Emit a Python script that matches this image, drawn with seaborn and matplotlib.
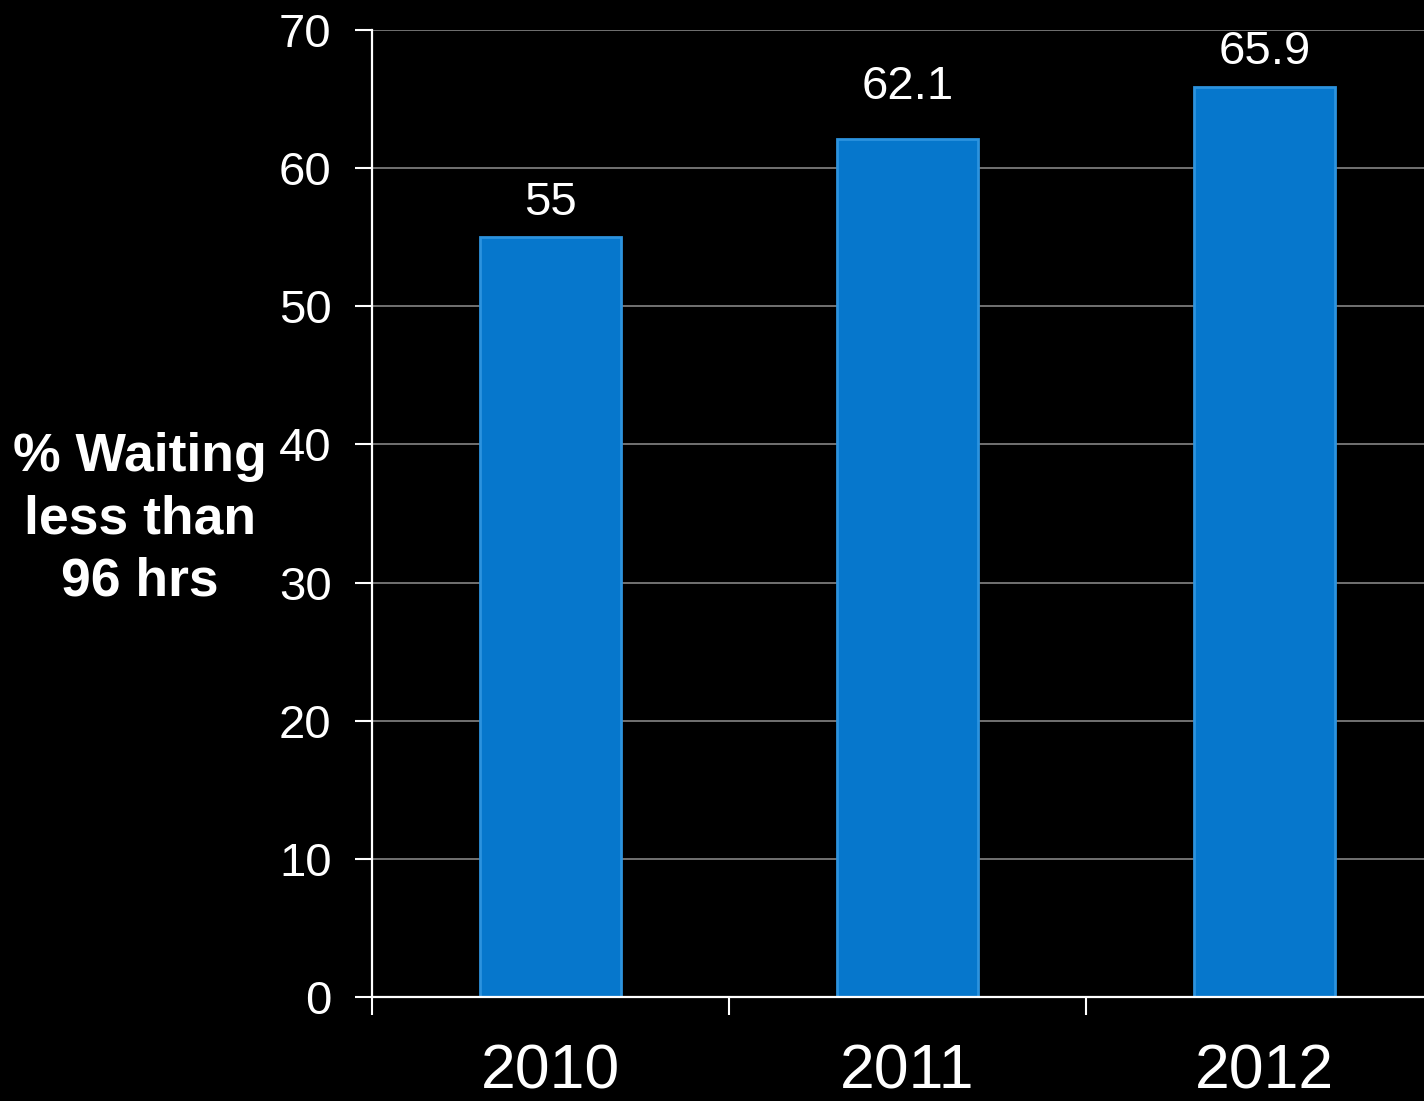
import matplotlib
matplotlib.use("Agg")
import matplotlib.pyplot as plt
import seaborn as sns

# data
years = ["2010", "2011", "2012"]
pct_waiting = [55, 62.1, 65.9]
bar_labels = ["55", "62.1", "65.9"]
y_ticks = [0, 10, 20, 30, 40, 50, 60, 70]


def main():
    sns.set_style("dark")
    plt.rcParams["font.family"] = ["Liberation Sans", "DejaVu Sans"]
    plt.rcParams["figure.facecolor"] = "black"
    plt.rcParams["axes.facecolor"] = "black"

    fig = plt.figure(figsize=(14.24, 11.01), dpi=100)
    ax = fig.add_axes([0.2612, 0.0945, 1.0 - 0.2612, 0.9728 - 0.0945])

    sns.barplot(x=years, y=pct_waiting, color="#0677CC", width=0.395,
                edgecolor="#2C93DE", linewidth=2, saturation=1, ax=ax)

    # value labels above the bars (the middle one sits a bit higher in the original)
    label_pads = [9, 22, 9]
    for bar, txt, pad in zip(ax.patches, bar_labels, label_pads):
        ax.annotate(txt, (bar.get_x() + bar.get_width() / 2, bar.get_height()),
                    xytext=(0, pad), textcoords="offset points",
                    ha="center", va="bottom", fontsize=34, color="white")

    # axes range
    ax.set_ylim(0, 70)
    ax.set_xlim(-0.5, 2.447)
    ax.set_yticks(y_ticks)

    # gridlines and spines
    ax.grid(False)
    ax.yaxis.grid(True, color="#7A7A7A", linewidth=1.3)
    ax.set_axisbelow(True)
    for side in ["top", "right"]:
        ax.spines[side].set_visible(False)
    for side in ["left", "bottom"]:
        ax.spines[side].set_visible(True)
        ax.spines[side].set_color("white")
        ax.spines[side].set_linewidth(1.6)

    # ticks: category boundaries get the tick marks on x
    ax.set_xticks([-0.5, 0.5, 1.5], minor=True)
    ax.tick_params(axis="x", which="minor", length=13, width=1.5,
                   color="white", direction="out", bottom=True)
    ax.tick_params(axis="x", which="major", length=0, pad=33,
                   labelsize=45, labelcolor="white")
    ax.tick_params(axis="y", which="major", length=12, width=1.5,
                   color="white", direction="out", left=True, pad=17,
                   labelsize=34, labelcolor="white")

    ax.set_xlabel("")
    ax.set_ylabel("")
    fig.text(140 / 1424, 1 - 519 / 1101, "% Waiting\nless than\n96 hrs",
             ha="center", va="center", multialignment="center",
             fontsize=38.5, fontweight="bold", color="white", linespacing=1.32)

    fig.savefig("out.png", dpi=100, facecolor="black")


if __name__ == "__main__":
    main()
